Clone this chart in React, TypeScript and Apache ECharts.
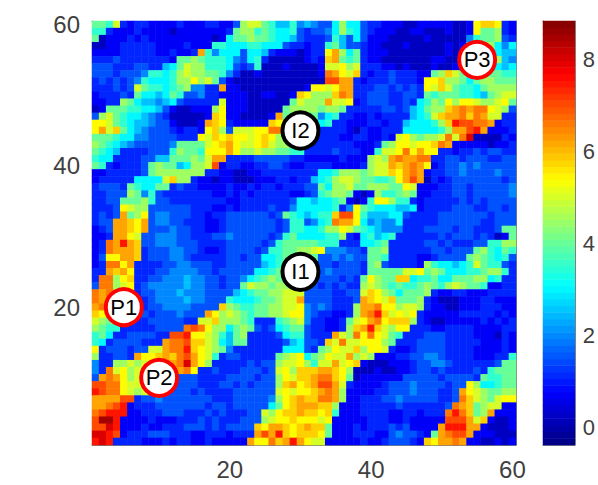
import React, { useEffect, useRef } from "react";
import * as echarts from "echarts";

// Each character is one cell's level; rows run from y = 60 down to y = 1.
const levelValues: Record<string, number> = {
  a: 0.2, b: 0.7, c: 1.1, d: 1.5, e: 2.0, f: 2.5, g: 3.0, h: 3.5, i: 4.0, j: 4.5,
  k: 5.0, l: 5.4, m: 5.8, n: 6.2, o: 6.6, p: 7.0, q: 7.5, r: 8.0, s: 8.5,
};

const heatLeft = [
  "iihkcbccbbbbcbbbccbbdjkkihffhe",
  "hhcbbbcbbbbabbbbbbbcijjhihgghd",
  "iabbbcbcbbbbbbbbbabgiijiihggfd",
  "aabbcccccbbbbcbbbhhggghhgggdcc",
  "bbbbcccccbbcbbcnhegggdggfcbbba",
  "cccdcccccccbiijihhhgedghcaaaaa",
  "dddcccddccfgikjjhhhgdcdhaaabaa",
  "dddcdddehhghjkjjiihecaabaaaaaa",
  "cdcdcdehggghjjljkidbaaaaaaaaaa",
  "cccdcdkihhghijeeccnbbaaaaaaaaa",
  "bcccdciggfgihddeccbbbbaabbaabm",
  "bbccjigffefgdccccckbbbaaaaaaik",
  "abiiihhggfdbaabbbjlbbbaaaaaijj",
  "djkihggfedcaaaaabmlbbaaaabniii",
  "llkihgffeddbaaabnmlcbbbbbmlkjj",
  "lnkmigfedddcbccblmjdkkkllookkj",
  "iiihggeeddddccclkmlmllklmljiji",
  "jihgfedddddeiiiiklmnlkklmkjjii",
  "ihgfccccdddhjiihlllnljjkjjiihh",
  "hggccccddffiiijiknnccccdddddcc",
  "ihcbcccdijiifgjjkpbccbbccddcbb",
  "bbcccccdijjjjjjjccbbaabbcccccc",
  "bcccccggggkmjjcbbabbaaabbbccbc",
  "cdddcihggiicdccbbbbcbbcbccbccc",
  "ccdddjiehdcccccccbbcbcbcccccbb",
  "ccddiiijhddccccccccbbcccccccdg",
  "cccdlkjjddddddcccbbcbccccdcceg",
  "cdcdnijldeedddccbccddddddcdihg",
  "cddnnmlndeeddcccbbcdddddddcdhh",
  "bcdnnmlndddeddccbbcdddddddcdhh",
  "bbcnnlkddeeeddcccddedddddcdhig",
  "bconqnmddeeedddccccdddddcdhiii",
  "bconnnmcdddeeddcbbcddddcdhhiij",
  "bdllnnmcdddeedcccccddcddgghiij",
  "bcoolnccccddeedddccdddddfghiii",
  "ccnmnlcccddeeeeddcdddddgghijjj",
  "coojlmccddeeefeeddcddeghijiijj",
  "doojklcdeeeeefeeddcddikjjijjkk",
  "onommlcddeeefeeeddddfghiijjkkk",
  "onnnnmccdeeeefeedddhggghiijkkn",
  "nonnnnccddeeeeddddmjihhiijjkkl",
  "mlljjjcdcdddedddnljkjihiijjkll",
  "kjihhcccdddddcckkmjjjihccchijk",
  "jihhcccccddddopoljjgijidcdghii",
  "higccddddccppqllkjhfijccccdghh",
  "hgcddddcccnoopmmkjgfiicccccdfg",
  "lcdddcddkknooqmlkjiecccccccggg",
  "jccddcnllmnmopnlkhcddcccccijkl",
  "eccjjkjklmnnornljcccccdcddjkkl",
  "ecokljkjkkmnnolccdcccdddcdkljm",
  "dnonljkjkklddddccccddddcddjlkm",
  "ppoolkkkkddddddcccddcdcdddjmnl",
  "qpoolkjkjdddddcdccccddddddklkl",
  "nnnnppcddedddddddcccdddddejlmn",
  "nnopqbcccdddddddcddcdddddgilmn",
  "opqqqbbcccdddcccdcdcccddkjlmmn",
  "pssqbbbbcbbbcccdcdcccdddjkllml",
  "pprqbbbcbbcccdddcdcddddmlnnmlm",
  "rrqpbcccdddcccbbcccbcccnpnqmlm",
  "qrqccccbbbcbccbbcbbbbbnllomnqn",
];

const heatRight = [
  "feddgjggdccbbbaabbbbbaablmmlcb",
  "cddegjhgdcbbbaabbaaabaabliijcb",
  "cccdhfdgdbbbaaaaabaaaaaehiijdc",
  "bcchifddcbbaaabaaaaababhjjjgeg",
  "bcclnjgicbbbaaaaaaaabaahjjjgff",
  "bcbmnihicbbaaaaaaabbaabhjjjjfe",
  "aabkkljkcccbbabaaabaabbgjjjgfg",
  "aabonlkmcbccdcccbbijmkijkjiihh",
  "aaappnncbcccdcccbllmjjigijjiii",
  "bllklnncccddcdcdclkmkihhgijjjj",
  "ljjjmonccdddccddcihiiihhgfijkk",
  "jjjnkklbcdddccdcghjiljllkjjkli",
  "jjijjicccccddcdfgijjmnonoolkjd",
  "iieghccbbcbccccfghkmnnomonkkcc",
  "ieghccbbbccbccfggghjmqppoonbcc",
  "ecccccbacbbcccggggghjnnpqnbbbc",
  "cccccbbccbbcbkljijjkokoraaaacb",
  "cccccccbbbcijllkllmonbbbbbabbc",
  "ccccdcccbbhkklolnllccbccdcddcc",
  "bbbbbcbbbjkjnonnooccddcdddccdd",
  "ccccbbbbcjkknmnonlbcddededdddd",
  "ccgghjjjijkkmlnonbccddeddddedd",
  "cfghjkkjiihhilnpnacbcdddddddcd",
  "ddigjjkiijjjiilkbbbccddcddddde",
  "cdhijjibabjhhijibbcccddcddddde",
  "gfgghibabhlljhhcbcccccdcdcdddd",
  "gggghcelihgggffgbccccdddccddcd",
  "fghhmpplhfffggdccccdddddddcddd",
  "deghonnlgefeegcccccddddddccddd",
  "gghjjlkihgfeeecccddddcddcccdii",
  "ggghhjcbghfghccccccdcdddcdcabi",
  "iihhhcccgghicccccddcdcccddhhjj",
  "jkleeeddciijccccccddcdddijhgih",
  "iiddededdiihccccbbcddddijihghd",
  "ddddcdddcijdccccbjhggfghkihhdc",
  "dddeddddciiiiikklijiggghhijjhc",
  "eddddcdciljiimmghhiggiiijjghcc",
  "ddcdcdccjkjihihhijihjkjiihbbcc",
  "ddddccddkmljigiiijcbbccbbbcccc",
  "ddddcccdnmlkmiiijcbaaabbbccbbb",
  "ededcccjnnolljkkjcbbaabbbcccbb",
  "edccbbcjnoqmklklcbbbbbcccccbcb",
  "eccbbciklnolmmmjcbaabbbbbcbcbc",
  "dccbbcjmnqmkjllcccbbccccbbbbcc",
  "dcccnkjololkihcccdddccccbbbacb",
  "ddcmkokkllljicccddddcccccbbbcb",
  "dcijlkkmjllkcbbcddddccccbbbbcb",
  "gijlkknjkjbbbccddeedccccbbbcch",
  "jhkknklmbaaabbbcddeedccccccdii",
  "mmnnmljaaabaabbcddcdccccdchiii",
  "mnoomliabbbbbbdddddcddddcihhii",
  "mnppnkcbbbbcdddeddddcddljgghii",
  "lmnonjbbbbccdddedddccdnlkjiijj",
  "mmoonjbbcccddedddddccdomkjikll",
  "nnmmjbbbcccccdccccccdonmijkkbb",
  "mmlmhbbbccccbbccbcccoqomijnbbb",
  "llklbbbbbcccbbcbbbbbpppnkmbaab",
  "nmmibbbcbcccdcdbbbbnqqqnnbaaab",
  "mmlibbbcccbbdeddcbinoppnbbbaaa",
  "lkkbbbbbcbbcdddcbmlnnonbbaabab",
];

const axisCells = Array.from({ length: 60 }, (_, i) => String(i + 1));
const colorTicks = [0, 2, 4, 6, 8];
const colorMin = -0.39;
const colorMax = 8.83;
const jetColors = ["#000080", "#0000ff", "#0080ff", "#00ffff", "#80ff80", "#ffff00", "#ff8000", "#ff0000", "#800000"];
const markers = [
  { name: "P1", x: "5", y: "20", ring: "#ff0000" },
  { name: "P2", x: "10", y: "10", ring: "#ff0000" },
  { name: "P3", x: "55", y: "55", ring: "#ff0000" },
  { name: "I1", x: "30", y: "25", ring: "#000000" },
  { name: "I2", x: "30", y: "45", ring: "#000000" },
];

const FONT = "'Liberation Sans', Arial, sans-serif";
const TEXT = "#404040";
const FRAME = "#808080";

function cellsFrom(): number[][] {
  const out: number[][] = [];
  for (let r = 0; r < 60; r++) {
    const y = 59 - r;
    for (let c = 0; c < 30; c++) {
      out.push([c, y, levelValues[heatLeft[r][c]]]);
      out.push([c + 30, y, levelValues[heatRight[r][c]]]);
    }
  }
  return out;
}

const tickEvery20 = (_: number, v: string) => Number(v) % 20 === 0;

export default function App() {
  const ref = useRef<HTMLDivElement>(null);
  useEffect(() => {
    const chart = echarts.init(ref.current!, undefined, { renderer: "svg" });
    const levels = Array.from({ length: 64 }, (_, i) => colorMin + ((i + 0.5) * (colorMax - colorMin)) / 64);
    const frameAxis = {
      axisLine: { show: true, onZero: false, lineStyle: { color: FRAME, width: 1 } },
      splitLine: { show: false },
    };
    const mainTick = {
      show: true,
      inside: true,
      length: 4,
      alignWithLabel: true,
      interval: tickEvery20,
      lineStyle: { color: TEXT, width: 1 },
    };
    chart.setOption({
      animation: false,
      backgroundColor: "#ffffff",
      textStyle: { fontFamily: FONT },
      grid: [
        { left: 92, top: 21, width: 424, height: 424 },
        { left: 543, top: 21, width: 33, height: 424 },
      ],
      xAxis: [
        {
          type: "category", gridIndex: 0, data: axisCells, position: "bottom", ...frameAxis,
          axisTick: mainTick,
          axisLabel: { interval: tickEvery20, fontSize: 24, color: TEXT, margin: 12, fontFamily: FONT },
        },
        {
          type: "category", gridIndex: 0, data: axisCells, position: "top", ...frameAxis,
          axisTick: mainTick, axisLabel: { show: false },
        },
        {
          type: "category", gridIndex: 1, data: ["bar"], position: "bottom", ...frameAxis,
          axisTick: { show: false }, axisLabel: { show: false },
        },
        {
          type: "category", gridIndex: 1, data: ["bar"], position: "top", ...frameAxis,
          axisTick: { show: false }, axisLabel: { show: false },
        },
      ],
      yAxis: [
        {
          type: "category", gridIndex: 0, data: axisCells, position: "left", ...frameAxis,
          axisTick: mainTick,
          axisLabel: { interval: tickEvery20, fontSize: 24, color: TEXT, margin: 12, fontFamily: FONT },
        },
        {
          type: "category", gridIndex: 0, data: axisCells, position: "right", ...frameAxis,
          axisTick: mainTick, axisLabel: { show: false },
        },
        {
          type: "category", gridIndex: 1, data: levels.map((_, i) => String(i)), position: "left", ...frameAxis,
          axisTick: { show: false }, axisLabel: { show: false },
        },
        {
          type: "value", gridIndex: 1, min: colorMin, max: colorMax, position: "right", ...frameAxis,
          axisTick: { show: true, inside: true, length: 4, customValues: colorTicks, lineStyle: { color: TEXT, width: 1 } },
          axisLabel: { customValues: colorTicks, fontSize: 22, color: TEXT, margin: 8, fontFamily: FONT },
        },
      ],
      visualMap: {
        show: false,
        type: "continuous",
        seriesIndex: [0, 1],
        dimension: 2,
        min: colorMin,
        max: colorMax,
        inRange: { color: jetColors },
      },
      series: [
        {
          type: "heatmap",
          xAxisIndex: 0,
          yAxisIndex: 0,
          data: cellsFrom(),
          itemStyle: { borderWidth: 0 },
          emphasis: { disabled: true },
        },
        {
          type: "heatmap",
          xAxisIndex: 2,
          yAxisIndex: 2,
          data: levels.map((v, i) => [0, i, v]),
          itemStyle: { borderWidth: 0 },
          emphasis: { disabled: true },
        },
        {
          type: "scatter",
          xAxisIndex: 0,
          yAxisIndex: 0,
          z: 5,
          symbol: "circle",
          symbolSize: 36,
          data: markers.map((m) => ({
            name: m.name,
            value: [m.x, m.y],
            itemStyle: { color: "#ffffff", borderColor: m.ring, borderWidth: 4, opacity: 1 },
          })),
          label: {
            show: true,
            position: "inside",
            formatter: "{b}",
            fontSize: 22,
            color: "#000000",
            fontFamily: FONT,
          },
          emphasis: { disabled: true },
        },
      ],
    });
    return () => chart.dispose();
  }, []);
  return (
    <div
      ref={ref}
      style={{ position: "fixed", left: 0, top: 0, width: 598, height: 485, background: "#fff" }}
    />
  );
}
